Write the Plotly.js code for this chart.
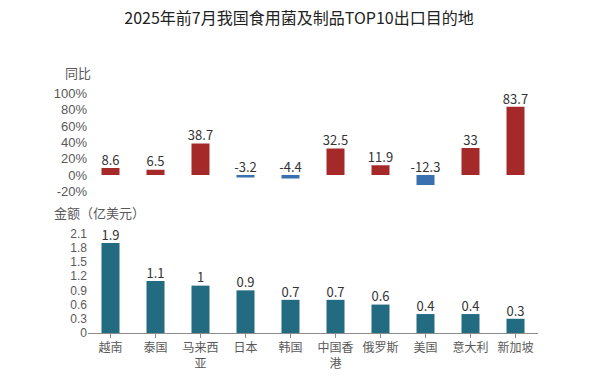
<!DOCTYPE html>
<html><head><meta charset="utf-8">
<script src="https://cdn.plot.ly/plotly-3.0.1.min.js"></script>
<style>body{margin:0;background:#fff}#c{width:598px;height:379px}</style>
</head><body><div id="c"></div>
<script>
const categories = ["越南","泰国","马来西亚","日本","韩国","中国香港","俄罗斯","美国","意大利","新加坡"];
const tickLabels = ["越南","泰国","马来西<br>亚","日本","韩国","中国香<br>港","俄罗斯","美国","意大利","新加坡"];
const yoyValues = [8.6, 6.5, 38.7, -3.2, -4.4, 32.5, 11.9, -12.3, 33, 83.7];
const amountValues = [1.9, 1.1, 1, 0.9, 0.7, 0.7, 0.6, 0.4, 0.4, 0.3];
const yoyTicks = [100, 80, 60, 40, 20, 0, -20];
const amountTicks = [0, 0.3, 0.6, 0.9, 1.2, 1.5, 1.8, 2.1];

const FONT = '"Noto Sans CJK SC", "Noto Sans", sans-serif';
const NUMFONT = '"Liberation Sans", "DejaVu Sans", sans-serif';
const RED = '#A6292A', BLUE = '#3A6FB0', TEAL = '#226B80';
const H = 379;
const dom = (topPx, botPx) => [1 - botPx / H, 1 - topPx / H];

const traces = [
  {type:'bar', x:categories, y:yoyValues, xaxis:'x2', yaxis:'y2', width:0.4,
   marker:{color: yoyValues.map(v => v >= 0 ? RED : BLUE)}, hoverinfo:'none'},
  {type:'scatter', mode:'text', x:categories, y:yoyValues.map(v => Math.max(v,0)), xaxis:'x2', yaxis:'y2',
   text: yoyValues.map(v => String(v)), textposition:'top center',
   textfont:{size:13, color:'#333', family:FONT}, hoverinfo:'none', cliponaxis:false},
  {type:'bar', x:categories, y:amountValues, xaxis:'x', yaxis:'y', width:0.4,
   marker:{color:TEAL}, hoverinfo:'none'},
  {type:'scatter', mode:'text', x:categories, y:amountValues, xaxis:'x', yaxis:'y',
   text: amountValues.map(v => String(v)), textposition:'top center',
   textfont:{size:13, color:'#333', family:FONT}, hoverinfo:'none', cliponaxis:false}
];

const layout = {
  width:598, height:379, showlegend:false,
  margin:{l:88, r:60, t:0, b:0},
  paper_bgcolor:'#fff', plot_bgcolor:'#fff',
  font:{family:FONT, color:'#595959'},
  title:{text:'2025年前7月我国食用菌及制品TOP10出口目的地', x:0.5, xanchor:'center', y:1-18/H, yanchor:'middle',
         font:{size:16, color:'#222', family:FONT}},
  xaxis:{anchor:'y', domain:[0,1], type:'category', tickvals:categories, ticktext:tickLabels,
         showline:true, linecolor:'#8c8c8c', linewidth:1, ticks:'outside', ticklen:4, tickcolor:'#8c8c8c',
         showgrid:false, zeroline:false, tickfont:{size:12, color:'#595959'}, range:[-0.5, 9.5]},
  yaxis:{domain:dom(233.5, 333), range:[0, 2.1], tickvals:amountTicks, ticktext:amountTicks.map(String),
         showgrid:false, zeroline:false, showline:false, ticks:'', tickfont:{size:12, color:'#595959', family:NUMFONT}},
  xaxis2:{anchor:'y2', domain:[0,1], type:'category', matches:'x', showticklabels:false, showline:false,
          showgrid:false, zeroline:false, ticks:'', range:[-0.5, 9.5]},
  yaxis2:{domain:dom(93.5, 191.3), range:[-20, 100], tickvals:yoyTicks, ticktext:yoyTicks.map(v => v + '%'),
          showgrid:false, zeroline:false, showline:false, ticks:'', tickfont:{size:13, color:'#595959', family:NUMFONT}},
  annotations:[
    {text:'同比', xref:'paper', yref:'paper', x:-10/450, y:1-72/H, xanchor:'center', yanchor:'middle',
     showarrow:false, font:{size:13, color:'#595959', family:FONT}},
    {text:'金额（亿美元）', xref:'paper', yref:'paper', x:-36/450, y:1-212/H, xanchor:'left', yanchor:'middle',
     showarrow:false, font:{size:13, color:'#595959', family:FONT}}
  ]
};

Plotly.newPlot('c', traces, layout, {staticPlot:true, displayModeBar:false});
</script>
</body></html>
